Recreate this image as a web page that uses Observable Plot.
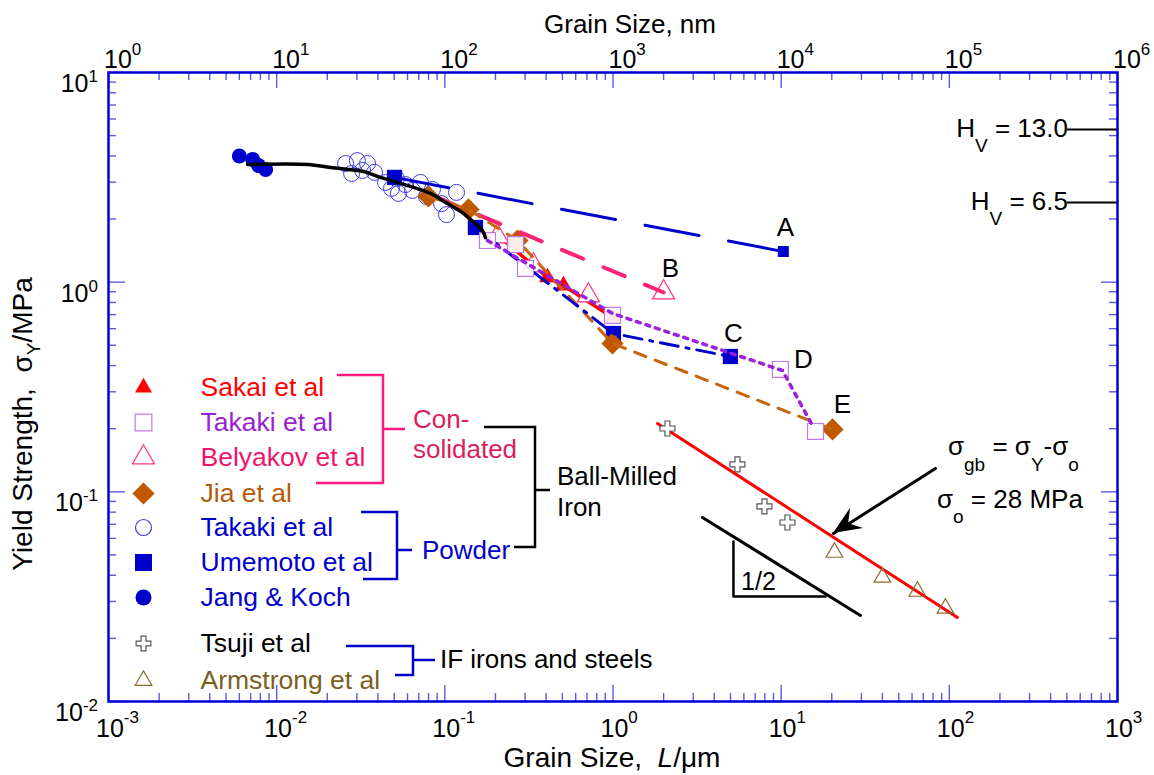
<!DOCTYPE html>
<html>
<head>
<meta charset="utf-8">
<script src="https://cdn.jsdelivr.net/npm/d3@7"></script>
<script src="https://cdn.jsdelivr.net/npm/@observablehq/plot@0.6"></script>
<style>
  body { margin: 0; background: #ffffff; }
  #chart svg { display: block; }
</style>
</head>
<body>
<div id="chart"></div>
<script>
// ================= DATA =================
// grain size L in micrometres, yield strength in the figure's units
const jangKochX = [0.0060, 0.0072, 0.0078, 0.0086];
const jangKochY = [4.0, 3.85, 3.6, 3.45];

const takakiPowderX = [0.0257, 0.0302, 0.0347, 0.0279, 0.0382, 0.0444, 0.0482, 0.0530, 0.0583, 0.0642, 0.0716, 0.0778, 0.0844, 0.0955, 0.1023, 0.1173, 0.0324, 0.0516];
const takakiPowderY = [3.68, 3.80, 3.68, 3.30, 3.34, 2.99, 2.80, 2.65, 2.92, 2.74, 2.99, 2.56, 2.77, 2.37, 2.10, 2.68, 3.41, 3.12];

const umemotoX = [0.0502, 0.152, 1.006, 4.99];
const umemotoY = [3.16, 1.823, 0.569, 0.442];
const umemotoEndX = [10.3];
const umemotoEndY = [1.40];

const sakaiX = [0.4076, 0.5074, 0.993];
const sakaiY = [1.053, 0.964, 0.679];
const sakaiLineX = [0.214, 0.4076, 0.5074, 0.993];
const sakaiLineY = [1.634, 1.053, 0.964, 0.679];

const takakiConsX = [0.1793, 0.263, 0.3016, 0.993, 9.90, 16.0];
const takakiConsY = [1.58, 1.512, 1.162, 0.694, 0.3834, 0.194];
const takakiConsLineX = [0.1793, 0.993, 10.18, 15.56];
const takakiConsLineY = [1.58, 0.709, 0.379, 0.2028];

const belyakovX = [0.2056, 0.3365, 0.7145, 2.0];
const belyakovY = [1.652, 1.201, 0.864, 0.893];
const belyakovLineX = [0.0904, 2.0];
const belyakovLineY = [2.53, 0.893];

const jiaX = [0.0799, 0.1382, 0.2703, 0.993, 20.2];
const jiaY = [2.563, 2.222, 1.58, 0.510, 0.1984];

const umemotoLineAX = [0.0502, 10.3];
const umemotoLineAY = [3.16, 1.40];
const umemotoLineCX = [0.152, 1.006, 4.99];
const umemotoLineCY = [1.823, 0.569, 0.442];

const fitX = [0.00671, 0.01545, 0.0209, 0.0328, 0.0414, 0.0523, 0.0651, 0.0822, 0.1037, 0.1291, 0.148, 0.1675, 0.1744];
const fitY = [3.64, 3.64, 3.52, 3.37, 3.16, 2.99, 2.83, 2.65, 2.37, 2.13, 1.93, 1.76, 1.63];

const tsujiX = [2.108, 5.495, 7.955, 10.9];
const tsujiY = [0.2005, 0.1351, 0.0852, 0.0714];

const armstrongX = [20.74, 40.0, 64.6, 94.8];
const armstrongY = [0.0514, 0.0391, 0.0335, 0.0278];

const ifFitX = [1.838, 111.7];
const ifFitY = [0.2118, 0.02518];

const slopeLineX = [3.404, 29.6];
const slopeLineY = [0.0755, 0.02573];
const slopeTriX = [5.203, 5.203, 18.34];
const slopeTriY = [0.058, 0.0317, 0.0317];
const slopeLabel = ["1/2"];
const slopeLabelX = [7.33];
const slopeLabelY = [0.037];

const arrowX = [82.7, 20.46];
const arrowY = [0.1293, 0.0633];

const hvValues = ["13.0", "6.5"];
const hvY = [5.35, 2.40];
const hvX1 = [504, 504];
const hvX2 = [1000, 1000];

const curveLetters = ["A", "B", "C", "D", "E"];
const curveLetterX = [10.6, 2.196, 5.2, 13.57, 23.1];
const curveLetterY = [1.823, 1.162, 0.569, 0.428, 0.261];

const xTickExps = [-3, -2, -1, 0, 1, 2, 3];      // bottom axis, micrometres
const nmTickExps = [0, 1, 2, 3, 4, 5, 6];        // top axis, nanometres
const yTickExps = [-2, -1, 0, 1];

const legendLabels = ["Sakai et al", "Takaki et al", "Belyakov et al", "Jia et al", "Takaki et al", "Umemoto et al", "Jang & Koch", "Tsuji et al", "Armstrong et al"];

// ================= STYLE / LAYOUT =================
const FONT = "'Liberation Sans', Arial, Helvetica, sans-serif";
const W = 1154, H = 775;
const mL = 108, mR = 37, mT = 72, mB = 74;
const FW = W - mL - mR, FH = H - mT - mB;
const BLUE = "#0000cc";
const TICK = "#5a5ae6";
const RED = "#ff0000";
const PURPLE = "#9a22dc";
const PURPLE_LIGHT = "#c27ae8";
const PINK = "#ff2277";
const PINK_T = "#ff3385";
const BROWN = "#c05800";
const OLIVE = "#8b6b2a";

const legendRows = [387, 422, 457, 493, 527, 562, 597, 643, 680];
const legendStyle = [
  {symbol: "triangle", r: 6.3, fill: RED, stroke: "none", text: RED},
  {symbol: "square", r: 9.4, fill: "white", stroke: PURPLE_LIGHT, text: "#9a22d0"},
  {symbol: "triangle", r: 8.2, fill: "white", stroke: PINK_T, text: "#f0146a"},
  {symbol: "diamond2", r: 10, fill: BROWN, stroke: "none", text: "#b85a0a"},
  {symbol: "circle", r: 8, fill: "none", stroke: "#3a3ae6", text: BLUE},
  {symbol: "square", r: 9.6, fill: BLUE, stroke: "none", text: BLUE},
  {symbol: "circle", r: 8, fill: BLUE, stroke: "none", text: BLUE},
  {symbol: "cross", r: 6.2, fill: "white", stroke: "#555", text: "#000"},
  {symbol: "triangle", r: 6.2, fill: "white", stroke: OLIVE, text: "#7a5f1e"}
];

// ================= BUILD TABLES =================
const pts = (xs, ys) => xs.map((x, i) => ({x, y: ys[i]}));
const minorOf = (exps) => exps.slice(0, -1).flatMap(e => [2,3,4,5,6,7,8,9].map(k => k * 10 ** e));
const xMajor = xTickExps.map(e => 10 ** e);
const xMinor = minorOf(xTickExps);
const yMajor = yTickExps.map(e => 10 ** e);
const yMinor = minorOf(yTickExps);

const legendMarks = legendLabels.flatMap((lab, i) => {
  const s = legendStyle[i];
  return [
    Plot.dot([0], {frameAnchor: "top-left", dx: 143 - mL, dy: legendRows[i] - mT, symbol: s.symbol, r: s.r, fill: s.fill, stroke: s.stroke, strokeWidth: 1.2}),
    Plot.text([lab], {frameAnchor: "top-left", lineAnchor: "middle", dx: 200 - mL, dy: legendRows[i] - mT, text: d => d, textAnchor: "start", fill: s.text, fontSize: 26.5})
  ];
});

const plot = Plot.plot({
  width: W, height: H,
  marginLeft: mL, marginRight: mR, marginTop: mT, marginBottom: mB,
  x: {type: "log", domain: [1e-3, 1e3], axis: null},
  y: {type: "log", domain: [1e-2, 1e1], axis: null},
  style: {fontFamily: FONT, fontSize: "25px", background: "white", overflow: "visible"},
  marks: [
    // inward ticks on all four sides
    Plot.ruleX(xMinor, {x: d => d, insetTop: FH - 8, stroke: TICK, strokeWidth: 1.4}),
    Plot.ruleX(xMajor, {x: d => d, insetTop: FH - 16, stroke: TICK, strokeWidth: 1.4}),
    Plot.ruleX(xMinor, {x: d => d, insetBottom: FH - 8, stroke: TICK, strokeWidth: 1.4}),
    Plot.ruleX(xMajor, {x: d => d, insetBottom: FH - 16, stroke: TICK, strokeWidth: 1.4}),
    Plot.ruleY(yMinor, {y: d => d, insetRight: FW - 8, stroke: TICK, strokeWidth: 1.4}),
    Plot.ruleY(yMajor, {y: d => d, insetRight: FW - 17, stroke: TICK, strokeWidth: 1.4}),
    Plot.ruleY(yMinor, {y: d => d, insetLeft: FW - 8, stroke: TICK, strokeWidth: 1.4}),
    Plot.ruleY(yMajor, {y: d => d, insetLeft: FW - 16, stroke: TICK, strokeWidth: 1.4}),

    // powder data
    Plot.dot(pts(takakiPowderX, takakiPowderY), {x: "x", y: "y", symbol: "circle", r: 8, fill: "none", stroke: "#3a3ae6", strokeWidth: 1}),
    Plot.dot(pts(jangKochX, jangKochY), {x: "x", y: "y", symbol: "circle", r: 7.5, fill: BLUE}),
    Plot.dot(pts(umemotoX, umemotoY), {x: "x", y: "y", symbol: "square", r: 8.6, fill: BLUE}),
    Plot.dot(pts(umemotoEndX, umemotoEndY), {x: "x", y: "y", symbol: "square", r: 6.2, fill: BLUE}),
    Plot.dot(pts(jiaX, jiaY), {x: "x", y: "y", symbol: "diamond2", r: 10, fill: BROWN}),

    // Sakai
    Plot.line(pts(sakaiLineX, sakaiLineY), {x: "x", y: "y", stroke: RED, strokeWidth: 3.5}),
    Plot.dot(pts(sakaiX, sakaiY), {x: "x", y: "y", symbol: "triangle", r: 6.3, fill: RED}),
    // Belyakov
    Plot.dot(pts(belyakovX, belyakovY), {x: "x", y: "y", symbol: "triangle", r: 8.2, fill: "white", stroke: PINK_T, strokeWidth: 1.2}),
    Plot.line(pts(belyakovLineX, belyakovLineY), {x: "x", y: "y", stroke: PINK, strokeWidth: 4, strokeDasharray: "23,22"}),
    // Umemoto lines
    Plot.line(pts(umemotoLineAX, umemotoLineAY), {x: "x", y: "y", stroke: BLUE, strokeWidth: 3, strokeDasharray: "55,30"}),
    // Jia line
    Plot.line(pts(jiaX, jiaY), {x: "x", y: "y", stroke: "#c8650f", strokeWidth: 3, strokeDasharray: "12,10"}),
    Plot.line(pts(umemotoLineCX, umemotoLineCY), {x: "x", y: "y", stroke: BLUE, strokeWidth: 3, strokeDasharray: "18,8,3,8"}),
    // Takaki consolidated
    Plot.dot(pts(takakiConsX, takakiConsY), {x: "x", y: "y", symbol: "square", r: 9, fill: "white", fillOpacity: 0.9, stroke: PURPLE_LIGHT, strokeWidth: 1.2}),
    Plot.line(pts(takakiConsLineX, takakiConsLineY), {x: "x", y: "y", stroke: PURPLE, strokeWidth: 3.5, strokeDasharray: "4,6"}),

    // overall fit for ball-milled iron
    Plot.line(pts(fitX, fitY), {x: "x", y: "y", stroke: "black", strokeWidth: 3.5, curve: "catmull-rom"}),

    // IF irons and steels
    Plot.line(pts(ifFitX, ifFitY), {x: "x", y: "y", stroke: RED, strokeWidth: 3}),
    Plot.dot(pts(tsujiX, tsujiY), {x: "x", y: "y", symbol: "cross", r: 6.3, fill: "white", stroke: "#555", strokeWidth: 1.2}),
    Plot.dot(pts(armstrongX, armstrongY), {x: "x", y: "y", symbol: "triangle", r: 6.2, fill: "none", stroke: OLIVE, strokeWidth: 1.2}),

    // slope 1/2 guide
    Plot.line(pts(slopeLineX, slopeLineY), {x: "x", y: "y", stroke: "black", strokeWidth: 3}),
    Plot.line(pts(slopeTriX, slopeTriY), {x: "x", y: "y", stroke: "black", strokeWidth: 2.5}),
    Plot.text(slopeLabel, {x: (d, i) => slopeLabelX[i], y: (d, i) => slopeLabelY[i], text: d => d, fontSize: 25, fill: "black"}),

    // arrow shaft
    Plot.line(pts(arrowX, arrowY), {x: "x", y: "y", stroke: "black", strokeWidth: 3}),

    // hardness reference lines
    Plot.ruleY(hvY, {y: d => d, x1: (d, i) => hvX1[i], x2: (d, i) => hvX2[i], stroke: "black", strokeWidth: 2}),

    // curve letters
    Plot.text(curveLetters, {x: (d, i) => curveLetterX[i], y: (d, i) => curveLetterY[i], text: d => d, fontSize: 26, fill: "black"}),

    ...legendMarks,

    Plot.frame({stroke: "#0000d4", strokeWidth: 2.5})
  ]
});

document.getElementById("chart").appendChild(plot);

// ================= OVERLAY TEXT (super/subscripts) =================
const svg = d3.select(plot);
const xs = plot.scale("x"), ys = plot.scale("y");
const g = svg.append("g").attr("font-family", FONT).attr("fill", "black").attr("text-anchor", "start");
const expStr = e => (e < 0 ? "-" + (-e) : String(e));

// bottom tick labels
xTickExps.forEach(e => {
  const tx = xs.apply(10 ** e);
  const t = g.append("text").attr("x", tx - 12).attr("y", 737).attr("font-size", 25);
  t.append("tspan").text("10");
  t.append("tspan").attr("dy", -14).attr("font-size", 17).text(expStr(e));
});
// top tick labels (nm)
nmTickExps.forEach(e => {
  const tx = xs.apply(10 ** e / 1000);
  const t = g.append("text").attr("x", tx - 4).attr("y", 68).attr("font-size", 25);
  t.append("tspan").text("10");
  t.append("tspan").attr("dy", -13).attr("font-size", 17).text(expStr(e));
});
// left tick labels
yTickExps.forEach(e => {
  const ty = ys.apply(10 ** e);
  const t = g.append("text").attr("x", 98).attr("y", ty + 20).attr("text-anchor", "end").attr("font-size", 25);
  t.append("tspan").text("10");
  t.append("tspan").attr("dy", -10).attr("font-size", 17).text(expStr(e));
});

// axis titles
g.append("text").attr("x", 630).attr("y", 33).attr("text-anchor", "middle").attr("font-size", 26).text("Grain Size, nm");
{
  const t = g.append("text").attr("x", 612).attr("y", 767).attr("text-anchor", "middle").attr("font-size", 28);
  t.append("tspan").text("Grain Size,  ");
  t.append("tspan").attr("font-style", "italic").text("L");
  t.append("tspan").text("/\u03bcm");
}
{
  const t = g.append("text").attr("transform", "translate(32,424) rotate(-90)").attr("text-anchor", "middle").attr("font-size", 28);
  t.append("tspan").text("Yield Strength,  \u03c3");
  t.append("tspan").attr("dy", 8).attr("font-size", 19).text("Y");
  t.append("tspan").attr("dy", -8).text("/MPa");
}

// hardness labels
hvValues.forEach((v, i) => {
  const py = ys.apply(hvY[i]);
  const px = xs.apply(hvX1[i]);
  const t = g.append("text").attr("x", px + 1).attr("y", py + 8).attr("text-anchor", "end").attr("font-size", 26);
  t.append("tspan").text("H");
  t.append("tspan").attr("dy", 15).attr("font-size", 19).text("V");
  t.append("tspan").attr("dy", -15).text(" = " + v);
});

// sigma annotations
{
  const t = g.append("text").attr("x", 948).attr("y", 455).attr("font-size", 26);
  t.append("tspan").text("\u03c3");
  t.append("tspan").attr("dy", 16).attr("font-size", 19).text("gb");
  t.append("tspan").attr("dy", -16).text(" = \u03c3");
  t.append("tspan").attr("dy", 16).attr("font-size", 19).text("Y");
  t.append("tspan").attr("dy", -16).text("-\u03c3");
  t.append("tspan").attr("dy", 16).attr("font-size", 19).text("o");
  const u = g.append("text").attr("x", 937).attr("y", 508).attr("font-size", 26);
  u.append("tspan").text("\u03c3");
  u.append("tspan").attr("dy", 15).attr("font-size", 19).text("o");
  u.append("tspan").attr("dy", -15).text(" = 28 MPa");
}

// filled arrowhead at the arrow tip
{
  const x0 = xs.apply(arrowX[0]), y0 = ys.apply(arrowY[0]);
  const x1 = xs.apply(arrowX[1]), y1 = ys.apply(arrowY[1]);
  const len = Math.hypot(x1 - x0, y1 - y0);
  const ux = (x1 - x0) / len, uy = (y1 - y0) / len;
  const px = -uy, py = ux;
  const L = 28, Wd = 12, N = 18;
  const bx = x1 - ux * L, by = y1 - uy * L;
  const nx = x1 - ux * N, ny = y1 - uy * N;
  g.append("path")
    .attr("d", `M${x1},${y1}L${bx + px * Wd},${by + py * Wd}L${nx},${ny}L${bx - px * Wd},${by - py * Wd}Z`)
    .attr("fill", "black");
}

// legend group labels and brackets
const br = svg.append("g").attr("fill", "none").attr("stroke-width", 2.5);
br.append("path").attr("d", "M337,375H383V483H316M383,429H405").attr("stroke", "#ff1a80");
br.append("path").attr("d", "M361,512H397V579H363M397,550H412").attr("stroke", BLUE);
br.append("path").attr("d", "M484,427H535V547H514M535,490H550").attr("stroke", "black");
br.append("path").attr("d", "M346,646H413V675H395M413,660H435").attr("stroke", BLUE);

g.append("text").attr("x", 413).attr("y", 428).attr("font-size", 26).attr("fill", "#dc1e5a").text("Con-");
g.append("text").attr("x", 413).attr("y", 458).attr("font-size", 26).attr("fill", "#dc1e5a").text("solidated");
g.append("text").attr("x", 422).attr("y", 559).attr("font-size", 26).attr("fill", BLUE).text("Powder");
g.append("text").attr("x", 557).attr("y", 485).attr("font-size", 26).text("Ball-Milled");
g.append("text").attr("x", 557).attr("y", 516).attr("font-size", 26).text("Iron");
g.append("text").attr("x", 440).attr("y", 668).attr("font-size", 26).text("IF irons and steels");
</script>
</body>
</html>
